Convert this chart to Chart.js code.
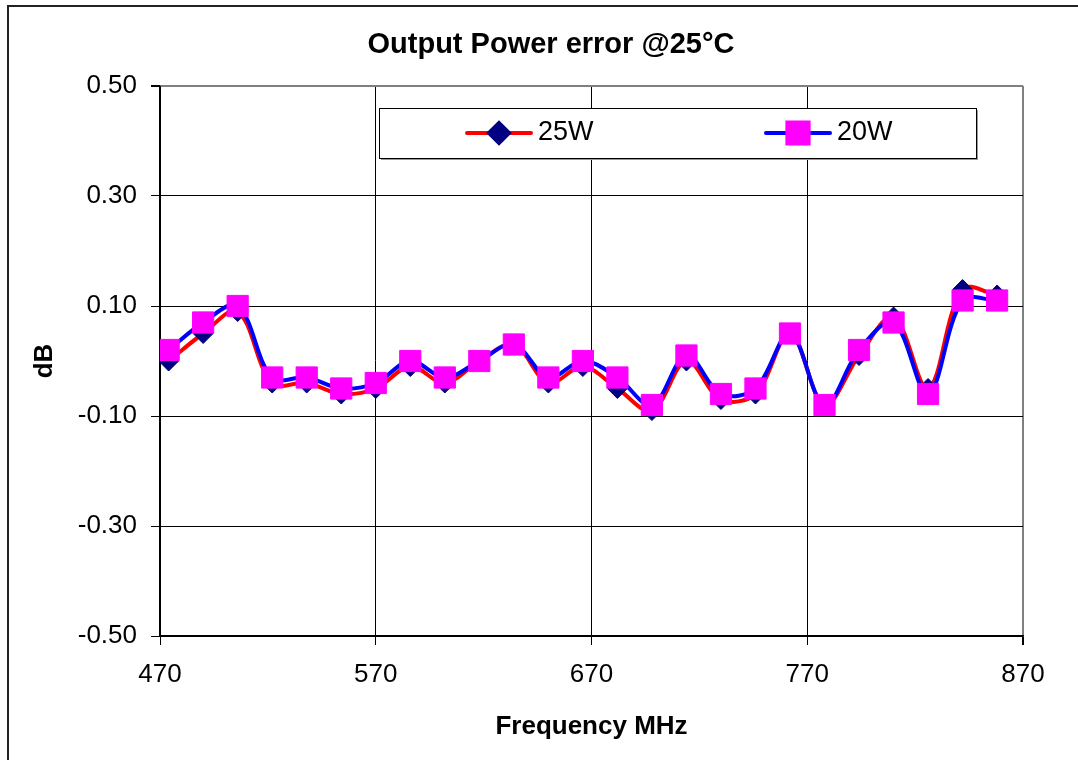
<!DOCTYPE html>
<html lang="en">
<head>
<meta charset="UTF-8">
<title>Output Power error @25°C</title>
<script src="https://cdn.jsdelivr.net/npm/chart.js@4.4.1/dist/chart.umd.min.js"></script>
<style>
  html, body { margin: 0; padding: 0; background: #fff; }
  #wrap { width: 1078px; height: 760px; }
</style>
</head>
<body>
<div id="wrap"><canvas id="chart" width="1078" height="760"></canvas></div>
<script>
// UHF channel centre frequencies (MHz)
const freqs = [474, 490, 506, 522, 538, 554, 570, 586, 602, 618, 634, 650, 666,
               682, 698, 714, 730, 746, 762, 778, 794, 810, 826, 842, 858];
// error in dB
const err25W = [0.00, 0.05, 0.09, -0.04, -0.04, -0.06, -0.05, -0.01, -0.04, 0.00, 0.03, -0.04, -0.01,
                -0.05, -0.09, 0.00, -0.07, -0.06, 0.05, -0.08, 0.01, 0.08, -0.05, 0.13, 0.12];
const err20W = [0.02, 0.07, 0.10, -0.03, -0.03, -0.05, -0.04, 0.00, -0.03, 0.00, 0.03, -0.03, 0.00,
                -0.03, -0.08, 0.01, -0.06, -0.05, 0.05, -0.08, 0.02, 0.07, -0.06, 0.11, 0.11];
const seriesNames = ['25W', '20W'];
const xTicks = [470, 570, 670, 770, 870];
const yTicks = [-0.5, -0.3, -0.1, 0.1, 0.3, 0.5];
const chartTitle = 'Output Power error @25°C';

const FONT = '"Liberation Sans", Arial, sans-serif';

// outer frame + title (title centred like the original, not on the plot area)
const frameAndTitle = {
  id: 'frameAndTitle',
  beforeDraw(chart) {
    const ctx = chart.ctx;
    ctx.save();
    ctx.strokeStyle = '#222';
    ctx.lineWidth = 2;
    ctx.beginPath();
    ctx.moveTo(8, 760);
    ctx.lineTo(8, 6);
    ctx.lineTo(1078, 6);
    ctx.stroke();
    ctx.fillStyle = '#000';
    ctx.font = 'bold 29px ' + FONT;
    ctx.textAlign = 'center';
    ctx.textBaseline = 'middle';
    ctx.fillText(chartTitle, 551, 45);
    ctx.restore();
  }
};

// boxed legend sitting inside the plot area
const legendBox = {
  id: 'legendBox',
  afterDatasetsDraw(chart, args, opts) {
    const ctx = chart.ctx;
    const {x, y, w, h} = opts;
    ctx.save();
    ctx.fillStyle = '#999';
    ctx.fillRect(x + 2, y + 2, w, h);
    ctx.fillStyle = '#fff';
    ctx.fillRect(x, y, w, h);
    ctx.strokeStyle = '#000';
    ctx.lineWidth = 1;
    ctx.strokeRect(x + 0.5, y + 0.5, w, h);
    const cy = y + h / 2;
    chart.data.datasets.forEach((ds, i) => {
      const x0 = opts.itemX[i];
      ctx.strokeStyle = ds.borderColor;
      ctx.lineWidth = 4;
      ctx.lineCap = 'round';
      ctx.beginPath();
      ctx.moveTo(x0, cy);
      ctx.lineTo(x0 + 64, cy);
      ctx.stroke();
      ctx.fillStyle = ds.pointBackgroundColor;
      ctx.strokeStyle = ds.pointBorderColor;
      Chart.helpers.drawPoint(ctx, {
        pointStyle: ds.pointStyle, radius: ds.pointRadius, rotation: 0, borderWidth: 1
      }, x0 + 32, cy);
      ctx.fillStyle = '#000';
      ctx.font = '27px ' + FONT;
      ctx.textAlign = 'left';
      ctx.textBaseline = 'middle';
      ctx.fillText(ds.label, x0 + 71, cy);
    });
    ctx.restore();
  }
};

const toPoints = (ys) => freqs.map((f, i) => ({x: f, y: ys[i]}));

new Chart(document.getElementById('chart'), {
  type: 'line',
  data: {
    datasets: [
      {
        label: seriesNames[0],
        data: toPoints(err25W),
        borderColor: '#ff0000',
        borderWidth: 4,
        tension: 0.35,
        pointStyle: 'rectRot',
        pointRadius: 10,
        pointBackgroundColor: '#000080',
        pointBorderColor: '#000080',
        pointBorderWidth: 1,
        order: 2
      },
      {
        label: seriesNames[1],
        data: toPoints(err20W),
        borderColor: '#0000ff',
        borderWidth: 4,
        tension: 0.35,
        pointStyle: 'rect',
        pointRadius: 15,
        pointBackgroundColor: '#ff00ff',
        pointBorderColor: '#ff00ff',
        pointBorderWidth: 1,
        order: 1
      }
    ]
  },
  options: {
    responsive: false,
    animation: false,
    layout: { padding: { top: 86, right: 55, bottom: 0, left: 0 } },
    plugins: {
      legend: { display: false },
      title: { display: false },
      tooltip: { enabled: false },
      legendBox: { x: 379, y: 108, w: 597, h: 50, itemX: [467, 766] }
    },
    scales: {
      x: {
        type: 'linear',
        min: 470,
        max: 870,
        afterBuildTicks: (s) => { s.ticks = xTicks.map(v => ({value: v})); },
        afterFit: (s) => { s.height = 124; },
        ticks: {
          color: '#000',
          font: { family: FONT, size: 26 },
          padding: 14,
          maxRotation: 0
        },
        grid: {
          color: (c) => (c.tick && c.tick.value === 870 ? '#808080' : '#000'),
          lineWidth: (c) => (c.tick && c.tick.value === 870 ? 2 : 1),
          tickColor: '#000',
          tickLength: 9
        },
        border: { color: '#000', width: 1.5 },
        title: {
          display: true,
          text: 'Frequency MHz',
          color: '#000',
          font: { family: FONT, size: 26, weight: 'bold' },
          padding: { top: 0, bottom: 17.4 }
        }
      },
      y: {
        min: -0.5,
        max: 0.5,
        afterBuildTicks: (s) => { s.ticks = yTicks.map(v => ({value: v})); },
        afterFit: (s) => { s.width = 160; },
        ticks: {
          color: '#000',
          font: { family: FONT, size: 26 },
          padding: 14,
          callback: (v) => Number(v).toFixed(2)
        },
        grid: {
          color: (c) => (c.tick && c.tick.value === 0.5 ? '#808080' : '#000'),
          lineWidth: (c) => (c.tick && c.tick.value === 0.5 ? 2 : 1),
          tickColor: '#000',
          tickLength: 9
        },
        border: { color: '#000', width: 1.5 },
        title: {
          display: true,
          text: 'dB',
          color: '#000',
          font: { family: FONT, size: 26, weight: 'bold' },
          padding: { top: 29.4, bottom: 0 }
        }
      }
    }
  },
  plugins: [frameAndTitle, legendBox]
});
</script>
</body>
</html>
